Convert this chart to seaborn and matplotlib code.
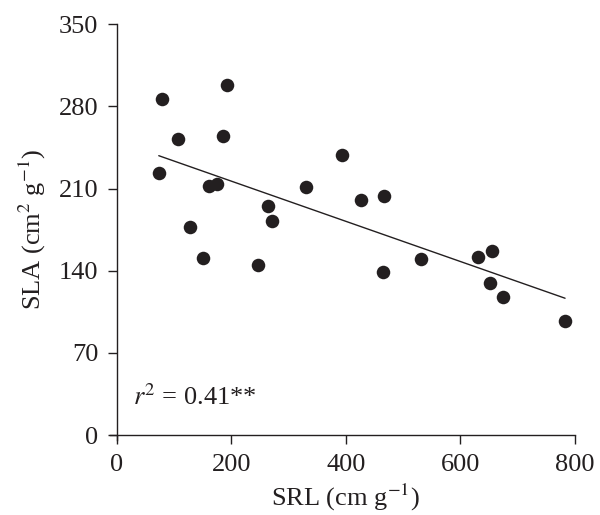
import numpy as np
import pandas as pd
import matplotlib
matplotlib.use('Agg')
import matplotlib.pyplot as plt
import seaborn as sns

# values
srl = [79, 192, 107, 186, 73, 161, 174, 127, 151, 246, 264, 270, 330, 393,
       426, 467, 464, 532, 631, 656, 652, 675, 783]
sla = [286, 298, 252, 255, 223, 212, 214, 177, 151, 145, 195, 182, 211, 239,
       200, 204, 139, 150, 152, 157, 130, 118, 97]
x_ticks = [0, 200, 400, 600, 800]
y_ticks = [0, 70, 140, 210, 280, 350]
r2_label = r'$r^2$ = 0.41**'

data = pd.DataFrame({'SRL': srl, 'SLA': sla})

sns.set_style('ticks')
plt.rcParams['font.family'] = ['Liberation Serif', 'DejaVu Serif']
plt.rcParams['mathtext.fontset'] = 'stix'

fig = plt.figure(figsize=(6, 5.15), dpi=100)
ax = fig.add_axes([0.195, 0.155, 0.763, 0.798])

sns.regplot(x='SRL', y='SLA', data=data, ax=ax, ci=None, color='black',
            scatter_kws={'s': 95, 'color': '#231f20', 'linewidths': 0, 'alpha': 1},
            line_kws={'linewidth': 1.0, 'color': '#231f20'})

ax.set_xlim(0, 800)
ax.set_ylim(0, 350)
ax.set_xticks(x_ticks)
ax.set_yticks(y_ticks)
ax.tick_params(labelsize=19, length=6.5, width=1, pad=7,
               color='#231f20', labelcolor='#231f20')
for side in ['top', 'right']:
    ax.spines[side].set_visible(False)
for side in ['left', 'bottom']:
    ax.spines[side].set_color('#231f20')
    ax.spines[side].set_linewidth(1)
ax.spines['bottom'].set_bounds(-12, 800)
ax.spines['left'].set_bounds(-4, 350)

ax.set_xlabel(r'SRL (cm g$^{-1}$)', fontsize=19, color='#231f20', labelpad=4.5)
ax.set_ylabel(r'SLA (cm$^2$ g$^{-1}$)', fontsize=19, color='#231f20', labelpad=8)

ax.text(28, 25.5, r2_label, fontsize=19, color='#231f20')

fig.savefig('out.png', dpi=100)
